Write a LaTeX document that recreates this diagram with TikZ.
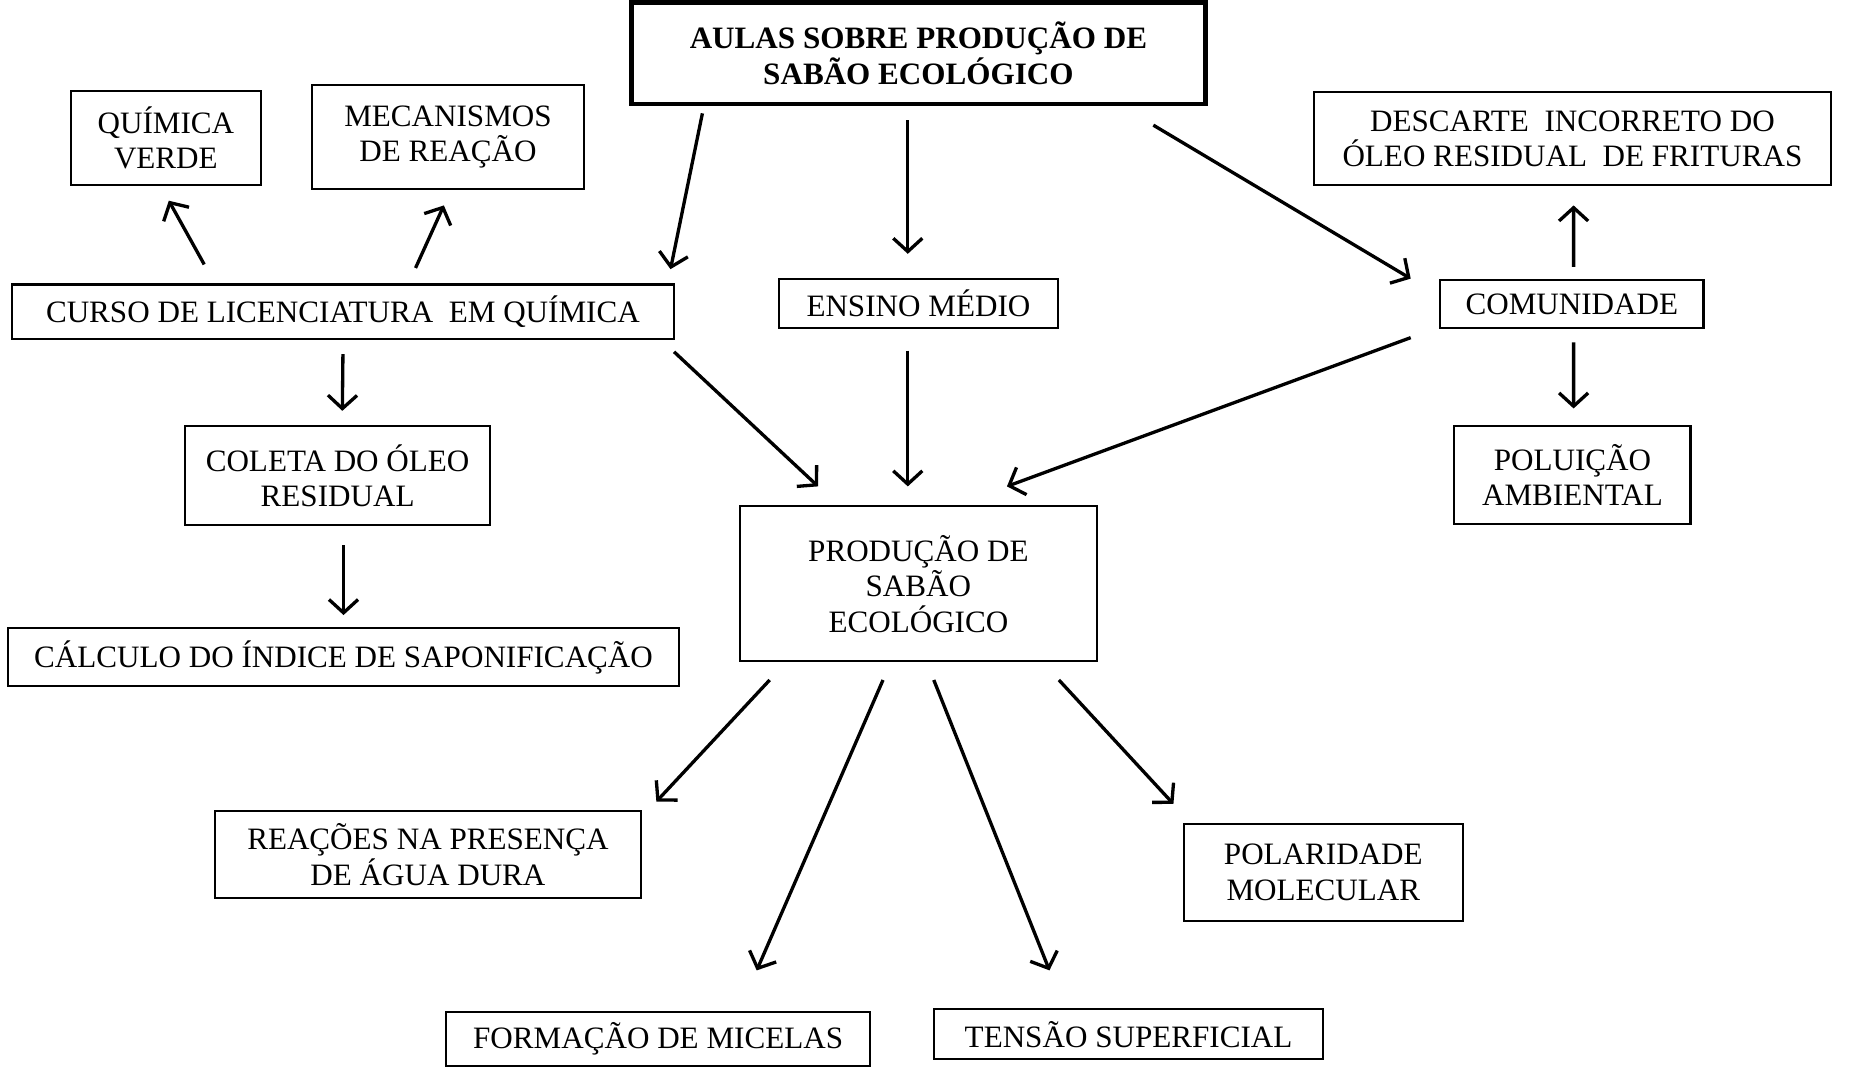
\documentclass[tikz,border=0pt]{standalone}
\usepackage{fontspec}
\setmainfont{Liberation Serif}
\usetikzlibrary{arrows.meta,calc}
\newcommand\dfont{\fontsize{7.5}{8.55}\selectfont}
\begin{document}
\begin{tikzpicture}[x=1cm,y=-1cm,
  box/.style={draw, line width=0.5pt, inner sep=0pt, outer sep=0pt, align=center, font=\dfont},
  titlebox/.style={box, line width=1.1pt, font=\dfont\bfseries},
  arr/.style={-{Straight Barb[length=3.2pt,width=7pt]}, line width=0.8pt}]
\fill[white] (0,0) rectangle (15.68,9.11);
\useasboundingbox (0,0) rectangle (15.68,9.11);
% nodes
\node[titlebox, minimum width=4.86cm, minimum height=0.86cm] (aulas) at (7.78,0.45) {AULAS SOBRE PRODUÇÃO DE\\SABÃO ECOLÓGICO};
\node[box, minimum width=1.61cm, minimum height=0.80cm] (qv) at (1.405,1.17) {QUÍMICA\\VERDE};
\node[box, minimum width=2.31cm, minimum height=0.88cm] (mec) at (3.795,1.16) {MECANISMOS\\DE REAÇÃO};
\node[box, minimum width=5.61cm, minimum height=0.46cm] (curso) at (2.905,2.64) {CURSO DE LICENCIATURA\ \ EM QUÍMICA};
\node[box, minimum width=2.36cm, minimum height=0.42cm] (ensino) at (7.78,2.57) {ENSINO MÉDIO};
\node[box, minimum width=2.23cm, minimum height=0.41cm] (comun) at (13.315,2.575) {COMUNIDADE};
\node[box, minimum width=4.38cm, minimum height=0.79cm] (desc) at (13.32,1.175) {DESCARTE\ \ INCORRETO DO\\ÓLEO RESIDUAL\ \ DE FRITURAS};
\node[box, minimum width=2.00cm, minimum height=0.83cm] (polu) at (13.32,4.025) {POLUIÇÃO\\AMBIENTAL};
\node[box, minimum width=2.58cm, minimum height=0.84cm] (coleta) at (2.86,4.03) {COLETA DO ÓLEO\\RESIDUAL};
\node[box, minimum width=5.68cm, minimum height=0.49cm] (calc) at (2.91,5.565) {CÁLCULO DO ÍNDICE DE SAPONIFICAÇÃO};
\node[box, minimum width=3.02cm, minimum height=1.31cm] (prod) at (7.78,4.945) {PRODUÇÃO DE\\SABÃO\\ECOLÓGICO};
\node[box, minimum width=3.61cm, minimum height=0.74cm] (reac) at (3.625,7.24) {REAÇÕES NA PRESENÇA\\DE ÁGUA DURA};
\node[box, minimum width=2.36cm, minimum height=0.82cm] (pol) at (11.21,7.39) {POLARIDADE\\MOLECULAR};
\node[box, minimum width=3.59cm, minimum height=0.46cm] (mic) at (5.575,8.80) {FORMAÇÃO DE MICELAS};
\node[box, minimum width=3.30cm, minimum height=0.42cm] (tens) at (9.56,8.76) {TENSÃO SUPERFICIAL};
% connectors
\draw[arr] ($(aulas.south)+(-1.83,0.08)$) -- ($(curso.north east)+(-0.03,-0.13)$);
\draw[arr] ($(aulas.south)+(-0.09,0.14)$) -- ($(ensino.north)+(-0.09,-0.21)$);
\draw[arr] ($(aulas.south east)+(-0.44,0.18)$) -- ($(comun.north west)+(-0.25,-0.01)$);
\draw[arr] ($(curso.north west)+(1.63,-0.17)$) -- ($(qv.south)+(0.025,0.13)$);
\draw[arr] ($(curso.north)+(0.615,-0.14)$) -- ($(mec.south)+(-0.035,0.14)$);
\draw[arr] ($(curso.south)+(0,0.13)$) -- ($(coleta.north)+(0.04,-0.13)$);
\draw[arr] ($(coleta.south)+(0.05,0.17)$) -- ($(calc.north)+(0,-0.11)$);
\draw[arr] ($(curso.south east)+(0,0.11)$) -- ($(prod.north west)+(0.66,-0.17)$);
\draw[arr] ($(ensino.south)+(-0.09,0.19)$) -- ($(prod.north)+(-0.09,-0.17)$);
\draw[arr] ($(comun.south west)+(-0.25,0.08)$) -- ($(prod.north)+(0.75,-0.17)$);
\draw[arr] ($(comun.north)+(0.015,-0.11)$) -- ($(desc.south)+(0.01,0.17)$);
\draw[arr] ($(comun.south)+(0.015,0.12)$) -- ($(polu.north)+(0.01,-0.15)$);
\draw[arr] ($(prod.south west)+(0.25,0.16)$) -- ($(reac.north east)+(0.13,-0.08)$);
\draw[arr] ($(prod.south)+(-0.30,0.16)$) -- ($(mic.north)+(0.835,-0.35)$);
\draw[arr] ($(prod.south)+(0.13,0.16)$) -- ($(tens.north)+(-0.67,-0.33)$);
\draw[arr] ($(prod.south east)+(-0.32,0.16)$) -- ($(pol.north west)+(-0.09,-0.17)$);
\end{tikzpicture}
\end{document}
